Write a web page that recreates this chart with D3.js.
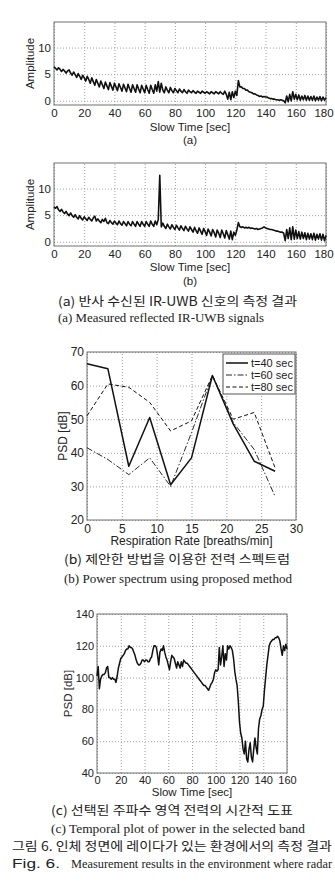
<!DOCTYPE html>
<html>
<head>
<meta charset="utf-8">
<script src="https://cdn.jsdelivr.net/npm/d3@7"></script>
<style>
  body { margin: 0; background: #fff; }
  svg { display: block; }
  .grid line { stroke: #a0a0a0; stroke-dasharray: 1,2; }
  .grid path, .ticks path { display: none; }
  .ticks text, .lbl { font-family: "Liberation Sans", Arial, sans-serif; fill: #222; }
  .kr { font-family: "Noto Sans CJK KR", sans-serif; fill: #222; }
  .en { font-family: "Liberation Serif", "Times New Roman", serif; fill: #222; }
</style>
</head>
<body>
<script>
// slow time grid in seconds (one sample per second)
const slowTimeAB = d3.range(0, 181);
const slowTimeC = d3.range(0, 161);

// (a) reflected IR-UWB amplitude
const ampA = [
  6.4, 6.1, 5.8, 6.2, 5.9, 5.5, 5.9, 5.6, 5.2, 5.6,
  5.8, 5.2, 4.8, 5.4, 4.9, 4.4, 5.1, 4.6, 4.0, 4.8,
  4.3, 3.7, 4.6, 4.0, 3.3, 4.3, 3.6, 2.9, 4.0, 3.3,
  2.6, 3.7, 3.0, 2.3, 3.5, 2.8, 2.1, 3.4, 2.7, 2.0,
  3.3, 2.6, 1.9, 3.2, 2.5, 1.8, 3.1, 2.4, 1.7, 3.1,
  2.3, 1.6, 3.0, 2.3, 1.6, 3.0, 2.2, 1.5, 2.9, 2.2,
  1.5, 2.9, 2.1, 1.4, 2.9, 2.1, 1.4, 3.0, 1.8, 3.6,
  1.6, 3.3, 2.0, 1.5, 2.6, 2.0, 1.5, 2.5, 1.9, 1.5,
  2.3, 1.9, 1.5, 2.2, 1.8, 1.5, 2.1, 1.7, 1.4, 2.0,
  1.7, 1.5, 1.9, 1.6, 1.4, 1.8, 1.6, 1.4, 1.8, 1.6,
  1.4, 1.7, 1.5, 1.3, 1.7, 1.5, 1.3, 1.7, 1.5, 1.3,
  1.7, 1.4, 1.2, 1.8, 1.2, 0.3, 1.6, 0.2, 1.7, 0.6,
  1.8, 1.0, 3.8, 2.6, 2.6, 2.3, 2.3, 2.0, 2.0, 1.7,
  1.6, 1.5, 1.3, 1.3, 1.1, 1.0, 0.8, 0.9, 0.7, 0.8,
  0.7, 0.7, 0.5, 0.4, 0.4, 0.3, 0.3, 0.2, 0.2, 0.1,
  0.2, 0.1, 0.0, -0.4, 0.9, -0.2, 1.2, 0.0, 1.7, 0.3,
  1.2, 0.2, 1.1, 0.1, 0.9, 0.2, 1.0, 0.1, 0.9, 0.1,
  0.8, 0.1, 0.9, 0.0, 0.7, 0.1, 0.8, 0.0, 0.7, 0.1,
  0.6
];

// (b) second measurement with the spike near 70 s
const ampB = [
  6.5, 6.3, 6.6, 6.0, 5.7, 6.1, 5.6, 5.3, 5.7, 5.2,
  4.9, 5.4, 4.9, 4.6, 5.1, 4.6, 4.3, 4.9, 4.4, 4.1,
  4.7, 4.3, 4.0, 4.6, 4.2, 3.9, 4.5, 4.8, 3.9, 4.3,
  3.9, 3.6, 4.2, 3.8, 4.4, 3.6, 3.4, 4.0, 3.6, 3.3,
  3.9, 3.5, 3.2, 3.9, 3.4, 3.1, 3.8, 3.4, 3.0, 3.8,
  3.3, 3.0, 3.8, 3.3, 2.9, 3.8, 3.3, 2.9, 3.8, 3.3,
  2.9, 3.8, 3.3, 2.9, 3.9, 3.3, 2.9, 3.9, 3.2, 4.2,
  12.5, 2.8, 3.5, 2.9, 2.5, 3.3, 2.8, 2.4, 3.2, 2.7,
  2.3, 3.1, 2.6, 2.2, 3.0, 2.5, 2.1, 2.9, 2.4, 2.0,
  2.8, 2.3, 1.8, 2.7, 2.1, 1.6, 2.6, 2.0, 1.4, 2.5,
  1.9, 1.2, 2.4, 1.8, 1.1, 2.3, 1.7, 0.9, 2.2, 1.6,
  0.8, 2.2, 1.5, 0.7, 2.1, 1.3, 0.5, 2.0, 0.4, 1.8,
  1.2, 2.2, 3.6, 2.8, 2.7, 2.8, 2.6, 2.7, 2.6, 2.7,
  2.5, 2.6, 2.5, 2.4, 2.5, 2.3, 2.4, 2.5, 2.6, 2.8,
  2.6, 2.5, 2.4, 2.3, 2.3, 2.2, 2.1, 2.0, 2.0, 1.9,
  1.8, 1.8, 1.6, 0.2, 2.3, 0.6, 2.6, 0.4, 2.8, 0.5,
  2.2, 0.6, 1.9, 0.5, 1.8, 0.6, 1.7, 0.4, 1.6, 0.5,
  1.5, 0.4, 1.6, 0.3, 1.4, 0.5, 1.5, 0.3, 1.4, 0.2,
  1.2
];

// power spectrum vs respiration rate
const respRate = [0, 3, 6, 9, 12, 15, 18, 21, 24, 27];
const psd40 = [66.5, 65, 36, 50.5, 30.5, 38.5, 63, 48.5, 37.5, 34.5];
const psd60 = [41.5, 38, 33.5, 38.5, 30, 46, 63, 49, 41, 27];
const psd80 = [51, 60.5, 59.5, 55, 46.5, 49.5, 63, 50, 52, 35.5];
const legendLabels = ["t=40 sec", "t=60 sec", "t=80 sec"];

// temporal power in the selected band
const psdBand = [
  101, 107, 93, 99, 101, 102, 102, 103, 106, 107,
  100, 100, 99, 100, 99, 99, 97, 101, 106, 109,
  112, 113, 114, 115, 117, 118, 118, 120, 119, 119,
  118, 116, 114, 111, 109, 108, 108, 109, 111, 111,
  110, 111, 111, 110, 110, 112, 113, 117, 120, 120,
  119, 114, 108, 116, 118, 117, 120, 116, 113, 111,
  108, 105, 110, 114, 113, 112, 109, 106, 110, 108,
  106, 110, 107, 111, 110, 109, 109, 108, 107, 106,
  105, 104, 103, 102, 101, 100, 99, 98, 97, 96,
  95, 95, 94, 93, 92, 94, 96, 97, 99, 103,
  105, 104, 105, 119, 108, 113, 120, 107, 115, 111,
  120, 118, 120, 119, 117, 112, 104, 99, 95, 85,
  72, 65, 62, 55, 52, 60, 49, 47, 55, 59,
  50, 47, 55, 62, 56, 52, 68, 74, 76, 80,
  82, 92, 100, 108, 114, 120, 122, 123, 124, 124,
  125, 125, 126, 125, 123, 118, 114, 120, 117, 121,
  118
];

const W = 335, H = 884;
const svg = d3.select("body").append("svg")
    .attr("width", W).attr("height", H);
svg.append("rect").attr("width", W).attr("height", H).attr("fill", "#fff");

// draws grid, box and tick labels, returns the scales
function frame(o) {
  const x = d3.scaleLinear().domain(o.xDom).range([o.l, o.r]);
  const y = d3.scaleLinear().domain(o.yDom).range([o.b, o.t]);
  const g = svg.append("g");

  g.append("g").attr("class", "grid")
      .attr("transform", `translate(0,${o.b})`)
      .call(d3.axisBottom(x).tickValues(o.xTicks).tickSize(-(o.b - o.t)).tickFormat(""));
  g.append("g").attr("class", "grid")
      .attr("transform", `translate(${o.l},0)`)
      .call(d3.axisLeft(y).tickValues(o.yTicks).tickSize(-(o.r - o.l)).tickFormat(""));

  g.append("rect")
      .attr("x", o.l).attr("y", o.t)
      .attr("width", o.r - o.l).attr("height", o.b - o.t)
      .attr("fill", "none").attr("stroke", "#707070");

  const xa = g.append("g").attr("class", "ticks")
      .attr("transform", `translate(0,${o.b})`)
      .call(d3.axisBottom(x).tickValues(o.xTicks).tickSize(0).tickPadding(o.padX))
      .attr("font-size", o.fs).attr("font-family", null);
  // keep the last label inside the page
  if (o.lastDx) xa.selectAll(".tick:last-of-type text").attr("dx", o.lastDx);
  g.append("g").attr("class", "ticks")
      .attr("transform", `translate(${o.l},0)`)
      .call(d3.axisLeft(y).tickValues(o.yTicks).tickSize(0).tickPadding(o.padY))
      .attr("font-size", o.fs).attr("font-family", null);

  // axis titles
  g.append("text").attr("class", "lbl")
      .attr("x", (o.l + o.r) / 2).attr("y", o.xTitleY)
      .attr("text-anchor", "middle").attr("font-size", o.tfs)
      .text(o.xTitle);
  g.append("text").attr("class", "lbl")
      .attr("transform", `translate(${o.yTitleX},${(o.t + o.b) / 2}) rotate(-90)`)
      .attr("dy", "0.35em")
      .attr("text-anchor", "middle").attr("font-size", o.tfs)
      .text(o.yTitle);
  return {x, y, g};
}

function trace(f, xs, ys, width, dash) {
  const line = d3.line().x(d => f.x(d[0])).y(d => f.y(d[1]));
  f.g.append("path")
      .datum(d3.zip(xs, ys))
      .attr("d", line)
      .attr("fill", "none")
      .attr("stroke", "#111")
      .attr("stroke-width", width)
      .attr("stroke-linejoin", "round")
      .attr("stroke-dasharray", dash || null);
}

// ---- (a) and (b): amplitude panels
const ampTicksX = [0, 20, 40, 60, 80, 100, 120, 140, 160, 180];
const pa = frame({l: 54, r: 326, t: 22, b: 105, xDom: [0, 180], yDom: [-0.8, 14.8],
  xTicks: ampTicksX, yTicks: [0, 5, 10], fs: 11.5, tfs: 11.5, padX: 4, padY: 3, lastDx: "-2.5",
  xTitle: "Slow Time [sec]", xTitleY: 131, yTitle: "Amplitude", yTitleX: 30});
trace(pa, slowTimeAB, ampA, 1.6);
svg.append("text").attr("class", "lbl").attr("x", 190).attr("y", 144)
    .attr("text-anchor", "middle").attr("font-size", 11.5).text("(a)");

const pb = frame({l: 54, r: 326, t: 163, b: 246, xDom: [0, 180], yDom: [-0.8, 14.8],
  xTicks: ampTicksX, yTicks: [0, 5, 10], fs: 11.5, tfs: 11.5, padX: 4, padY: 3, lastDx: "-2.5",
  xTitle: "Slow Time [sec]", xTitleY: 271, yTitle: "Amplitude", yTitleX: 30});
trace(pb, slowTimeAB, ampB, 1.6);
svg.append("text").attr("class", "lbl").attr("x", 190).attr("y", 285)
    .attr("text-anchor", "middle").attr("font-size", 11.5).text("(b)");

function caption(txt, cls, x, y, fs, len) {
  svg.append("text").attr("class", cls)
      .attr("x", x).attr("y", y).attr("font-size", fs)
      .attr("textLength", len).attr("lengthAdjust", "spacingAndGlyphs")
      .text(txt);
}
caption("(a) 반사 수신된 IR-UWB 신호의 측정 결과", "kr", 58, 306, 12.5, 239);
caption("(a) Measured reflected IR-UWB signals", "en", 58, 322, 13.5, 206);

// ---- power spectrum panel
const pc = frame({l: 87, r: 296, t: 352, b: 520, xDom: [0, 30], yDom: [20, 70],
  xTicks: [0, 5, 10, 15, 20, 25, 30], yTicks: [20, 30, 40, 50, 60, 70], fs: 12, tfs: 12,
  padX: 4, padY: 3,
  xTitle: "Respiration Rate [breaths/min]", xTitleY: 545, yTitle: "PSD [dB]", yTitleX: 63});
const styles = [{w: 1.5, d: null}, {w: 0.9, d: "6,2,1.5,2"}, {w: 1, d: "4,2.5"}];
trace(pc, respRate, psd60, styles[1].w, styles[1].d);
trace(pc, respRate, psd80, styles[2].w, styles[2].d);
trace(pc, respRate, psd40, styles[0].w, styles[0].d);

const lg = svg.append("g");
lg.append("rect").attr("x", 223).attr("y", 354).attr("width", 72).attr("height", 40)
    .attr("fill", "#fff").attr("stroke", "#555");
legendLabels.forEach((name, i) => {
  const yy = 363 + i * 12;
  lg.append("line").attr("x1", 226).attr("x2", 248).attr("y1", yy).attr("y2", yy)
      .attr("stroke", "#111").attr("stroke-width", styles[i].w)
      .attr("stroke-dasharray", styles[i].d);
  lg.append("text").attr("class", "lbl").attr("x", 251).attr("y", yy).attr("dy", "0.35em")
      .attr("font-size", 11).text(name);
});

caption("(b) 제안한 방법을 이용한 전력 스펙트럼", "kr", 64, 564, 12.5, 226);
caption("(b) Power spectrum using proposed method", "en", 64, 583, 13.5, 228);

// ---- temporal band power panel
const pd = frame({l: 97, r: 287, t: 614, b: 773, xDom: [0, 160], yDom: [40, 140],
  xTicks: [0, 20, 40, 60, 80, 100, 120, 140, 160], yTicks: [40, 60, 80, 100, 120, 140],
  fs: 11, tfs: 11.5, padX: 3, padY: 3,
  xTitle: "Slow Time [sec]", xTitleY: 796, yTitle: "PSD [dB]", yTitleX: 68});
trace(pd, slowTimeC, psdBand, 1.5);

caption("(c) 선택된 주파수 영역 전력의 시간적 도표", "kr", 51, 815, 12.5, 242);
caption("(c) Temporal plot of power in the selected band", "en", 51, 833, 13.5, 254);

// figure caption
caption("그림 6. 인체 정면에 레이다가 있는 환경에서의 측정 결과", "kr", 12, 851, 12.5, 320);
caption("Fig. 6.", "lbl", 12, 868, 12.5, 48);
caption("Measurement results in the environment where radar", "en", 71, 868, 12.5, 261);
</script>
</body>
</html>
